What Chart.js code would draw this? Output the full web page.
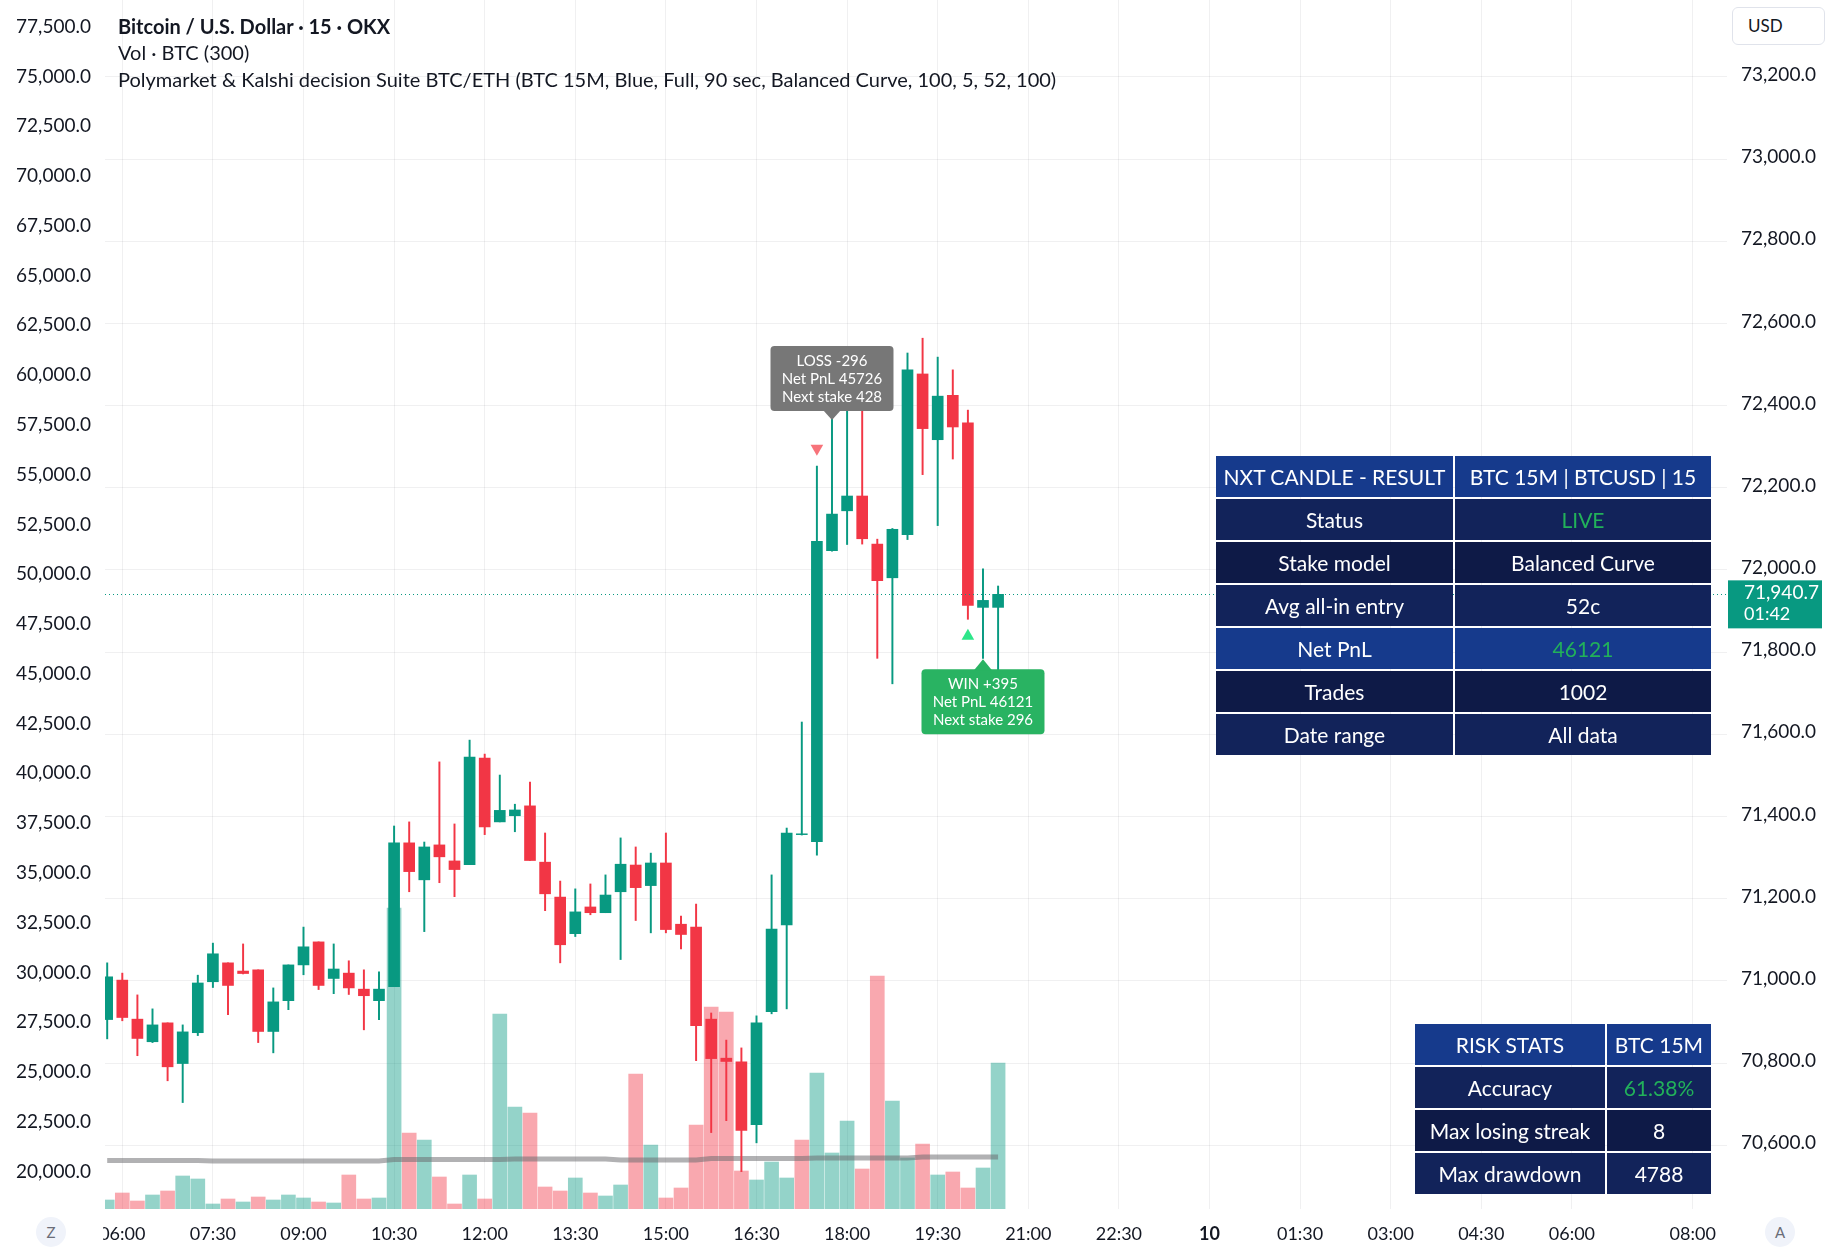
<!DOCTYPE html>
<html>
<head>
<meta charset="utf-8">
<title>Bitcoin / U.S. Dollar · 15 · OKX</title>
<script src="https://cdn.jsdelivr.net/npm/chart.js@4.4.1/dist/chart.umd.min.js"></script>
<style>
  html, body { margin: 0; padding: 0; background: #ffffff; }
  #wrap {
    position: relative;
    width: 1832px;
    height: 1255px;
    overflow: hidden;
    font-family: Lato, "Noto Sans", sans-serif;
    color: #131722;
  }
  #chart { position: absolute; left: 0; top: 0; }
  .legend { position: absolute; left: 118px; font-size: 20px; line-height: 26px; white-space: nowrap; }
  .legend.title { font-weight: bold; }
  .usd {
    position: absolute; left: 1732px; top: 7px; width: 93px; height: 38px;
    box-sizing: border-box; border: 1px solid #e0e3eb; border-radius: 6px;
    font-size: 17px; line-height: 36px; padding-left: 15px; background: #fff;
  }
  .round-btn {
    position: absolute; width: 30px; height: 30px; border-radius: 15px;
    background: #f0f3fa; color: #6a6d78; font-size: 15px; line-height: 30px; text-align: center;
  }
  table.panel {
    position: absolute;
    border-collapse: separate;
    border-spacing: 2px;
    font-size: 21px;
    color: #ffffff;
  }
  table.panel td { height: 41px; padding: 0; text-align: center; white-space: nowrap; }
  .hdr { background: #163a8c; }
  .rowA { background: #12235a; }
  .rowB { background: #0e1a47; }
  .good { color: #22b15a; }
</style>
</head>
<body>
<div id="wrap">
  <canvas id="chart" width="1832" height="1255"></canvas>

  <div class="legend title" style="top:13px">Bitcoin / U.S. Dollar · 15 · OKX</div>
  <div class="legend" style="top:39px">Vol · BTC (300)</div>
  <div class="legend" style="top:66px">Polymarket &amp; Kalshi decision Suite BTC/ETH (BTC 15M, Blue, Full, 90 sec, Balanced Curve, 100, 5, 52, 100)</div>

  <div class="usd">USD</div>
  <div class="round-btn" style="left:36px; top:1217px">Z</div>
  <div class="round-btn" style="left:1765px; top:1217px">A</div>

  <table class="panel" style="left:1214px; top:454px">
    <tr><td class="hdr" style="width:237px">NXT CANDLE - RESULT</td><td class="hdr" style="width:256px">BTC 15M | BTCUSD | 15</td></tr>
    <tr><td class="rowA">Status</td><td class="rowA good">LIVE</td></tr>
    <tr><td class="rowB">Stake model</td><td class="rowB">Balanced Curve</td></tr>
    <tr><td class="rowA">Avg all-in entry</td><td class="rowA">52c</td></tr>
    <tr><td class="hdr">Net PnL</td><td class="hdr good">46121</td></tr>
    <tr><td class="rowB">Trades</td><td class="rowB">1002</td></tr>
    <tr><td class="rowA">Date range</td><td class="rowA">All data</td></tr>
  </table>

  <table class="panel" style="left:1413px; top:1022px">
    <tr><td class="hdr" style="width:190px">RISK STATS</td><td class="hdr" style="width:104px">BTC 15M</td></tr>
    <tr><td class="rowA">Accuracy</td><td class="rowA good">61.38%</td></tr>
    <tr><td class="rowB">Max losing streak</td><td class="rowB">8</td></tr>
    <tr><td class="rowA">Max drawdown</td><td class="rowA">4788</td></tr>
  </table>
</div>

<script>
// 15 minute candles, 05:45 -> 20:30
const candleTimes = [
  "05:45", "06:00", "06:15", "06:30", "06:45", "07:00", "07:15", "07:30", "07:45", "08:00",
  "08:15", "08:30", "08:45", "09:00", "09:15", "09:30", "09:45", "10:00", "10:15", "10:30",
  "10:45", "11:00", "11:15", "11:30", "11:45", "12:00", "12:15", "12:30", "12:45", "13:00",
  "13:15", "13:30", "13:45", "14:00", "14:15", "14:30", "14:45", "15:00", "15:15", "15:30",
  "15:45", "16:00", "16:15", "16:30", "16:45", "17:00", "17:15", "17:30", "17:45", "18:00",
  "18:15", "18:30", "18:45", "19:00", "19:15", "19:30", "19:45", "20:00", "20:15", "20:30"
];

const opens = [
  70906, 71002, 70907, 70852, 70898, 70799, 70874, 70998, 71044, 71024,
  71027, 70877, 70952, 71039, 71095, 71006, 71019, 70980, 70952, 70986,
  71336, 71246, 71331, 71292, 71283, 71542, 71387, 71402, 71426, 71289,
  71204, 71115, 71180, 71166, 71217, 71282, 71232, 71287, 71138, 71131,
  70907, 70812, 70803, 70650, 70925, 71136, 71356, 71339, 72047, 72144,
  72180, 72063, 71981, 72086, 72477, 72317, 72425, 72358, 71909, 71909
];
const highs = [
  71044, 71019, 70966, 70932, 70898, 70893, 71014, 71092, 71044, 71090,
  71027, 70983, 71039, 71131, 71095, 71090, 71049, 71027, 71022, 71377,
  71387, 71338, 71533, 71382, 71586, 71552, 71501, 71430, 71484, 71360,
  71243, 71224, 71236, 71258, 71348, 71326, 71311, 71360, 71158, 71187,
  70922, 70856, 70837, 70915, 71258, 71372, 71630, 72253, 72370, 72420,
  72410, 72075, 72101, 72528, 72564, 72518, 72487, 72389, 72003, 71961
];
const lows = [
  70859, 70903, 70818, 70850, 70757, 70704, 70867, 70984, 70918, 71017,
  70850, 70825, 70930, 71015, 70979, 70969, 70967, 70881, 70906, 70986,
  71217, 71120, 71239, 71205, 71283, 71356, 71387, 71363, 71293, 71171,
  71044, 71108, 71161, 71166, 71052, 71147, 71117, 71117, 71078, 70806,
  70631, 70660, 70536, 70606, 70920, 70932, 71355, 71306, 72046, 72062,
  72063, 71785, 71723, 72074, 72232, 72108, 72270, 71880, 71785, 71754
];
const closes = [
  71010, 70911, 70860, 70893, 70791, 70876, 70995, 71066, 70989, 71018,
  70877, 70949, 71039, 71083, 70989, 71029, 70983, 70964, 70980, 71336,
  71266, 71326, 71302, 71271, 71545, 71375, 71415, 71416, 71293, 71212,
  71088, 71168, 71166, 71209, 71284, 71227, 71287, 71125, 71113, 70891,
  70811, 70804, 70636, 70898, 71126, 71360, 71358, 72070, 72136, 72180,
  72076, 71974, 72099, 72487, 72344, 72423, 72348, 71914, 71926, 71940.7
];

// volume (BTC) and its 300 period average
const volumes = [
  9, 16, 8, 14, 18, 33, 30, 5, 10, 7,
  12, 9, 14, 11, 7, 6, 34, 10, 11, 301,
  76, 69, 32, 5, 34, 10, 195, 102, 96, 22,
  18, 31, 16, 13, 24, 135, 64, 11, 21, 84,
  202, 197, 38, 29, 47, 31, 69, 136, 56, 88,
  40, 233, 108, 51, 65, 34, 37, 21, 41, 146
];
const volumeMA = [
  48.5, 48.5, 48.5, 48.5, 48.5, 48.5, 48.5, 48, 48, 48,
  48, 48, 48, 48, 48, 48, 48, 48, 48, 49.5,
  49.5, 49.5, 49.5, 49.5, 49.5, 49.5, 49.5, 50, 50, 50,
  50, 50, 50, 50, 49, 49, 49, 49, 49, 49,
  50.5, 50.5, 50.5, 50.5, 50.5, 50.5, 50.5, 51, 51, 51,
  51, 51, 51, 51, 52, 52, 52, 52, 52, 52
];

// axis ticks
const xTickHours = [6, 7.5, 9, 10.5, 12, 13.5, 15, 16.5, 18, 19.5, 21, 22.5, 24, 25.5, 27, 28.5, 30, 32];
const xTickLabels = ["06:00", "07:30", "09:00", "10:30", "12:00", "13:30", "15:00", "16:30", "18:00", "19:30",
  "21:00", "22:30", "10", "01:30", "03:00", "04:30", "06:00", "08:00"];
const priceTicks = [70600, 70800, 71000, 71200, 71400, 71600, 71800, 72000, 72200, 72400, 72600, 72800, 73000, 73200];
const leftTicks = [20000, 22500, 25000, 27500, 30000, 32500, 35000, 37500, 40000, 42500, 45000, 47500,
  50000, 52500, 55000, 57500, 60000, 62500, 65000, 67500, 70000, 72500, 75000, 77500];

// strategy signals and trade results
const signalTimes = ["17:30", "20:00"];
const signalPrices = [72296, 71839];
const signalSides = ["sell", "buy"];
const tradeTimes = ["17:45", "20:15"];
const tradeResults = ["LOSS -296", "WIN +395"];
const tradeNetPnL = [45726, 46121];
const tradeNextStake = [428, 296];
const barCountdown = "01:42";

const UP = "#089981";
const DOWN = "#f23645";
const GRID = "rgba(42, 46, 57, 0.07)";
const TEXT = "#131722";
const FONT = 'Lato, "Noto Sans", sans-serif';

function toHours(t) {
  const [h, m] = t.split(":").map(Number);
  return h + m / 60;
}

function formatPrice(v) {
  return v.toLocaleString("en-US", { minimumFractionDigits: 1, maximumFractionDigits: 1 });
}

const xs = candleTimes.map(toHours);
const candleColors = closes.map((c, i) => (c >= opens[i] ? UP : DOWN));
const volumeColors = closes.map((c, i) => {
  const prev = i === 0 ? opens[0] : closes[i - 1];
  return c >= prev ? "rgba(8, 153, 129, 0.43)" : "rgba(242, 54, 69, 0.43)";
});

const tradeLabelsPlugin = {
  id: "tradeLabels",
  afterDatasetsDraw(chart) {
    const { ctx, chartArea } = chart;
    const xScale = chart.scales.x;
    const yScale = chart.scales.yPrice;
    ctx.save();

    // last price dotted line
    const lastY = yScale.getPixelForValue(closes[closes.length - 1]);
    ctx.strokeStyle = UP;
    ctx.lineWidth = 1;
    ctx.setLineDash([1, 3]);
    ctx.beginPath();
    ctx.moveTo(chartArea.left, Math.round(lastY) + 0.5);
    ctx.lineTo(chartArea.right, Math.round(lastY) + 0.5);
    ctx.stroke();
    ctx.setLineDash([]);

    // trade result bubbles
    ctx.font = "15px " + FONT;
    ctx.textAlign = "center";
    ctx.textBaseline = "middle";
    tradeTimes.forEach((t, k) => {
      const i = candleTimes.indexOf(t);
      const x = xScale.getPixelForValue(xs[i]);
      const isWin = tradeResults[k].startsWith("WIN");
      const lines = [tradeResults[k], "Net PnL " + tradeNetPnL[k], "Next stake " + tradeNextStake[k]];
      const w = 123;
      const h = 65;
      let tipY, boxTop;
      if (isWin) {
        tipY = yScale.getPixelForValue(lows[i]) + 1;
        boxTop = tipY + 10;
      } else {
        tipY = yScale.getPixelForValue(highs[i]) + 2;
        boxTop = tipY - 9 - h;
      }
      ctx.fillStyle = isWin ? "#29b362" : "#777777";
      ctx.beginPath();
      ctx.roundRect(x - w / 2, boxTop, w, h, 4);
      ctx.fill();
      ctx.beginPath();
      if (isWin) {
        ctx.moveTo(x - 9, boxTop + 1);
        ctx.lineTo(x, tipY);
        ctx.lineTo(x + 9, boxTop + 1);
      } else {
        ctx.moveTo(x - 9, boxTop + h - 1);
        ctx.lineTo(x, tipY);
        ctx.lineTo(x + 9, boxTop + h - 1);
      }
      ctx.fill();
      ctx.fillStyle = "#ffffff";
      lines.forEach((line, j) => {
        ctx.fillText(line, x, boxTop + 15 + j * 18);
      });
    });
    ctx.restore();
  },
  afterDraw(chart) {
    const { ctx, chartArea } = chart;
    const yScale = chart.scales.yPrice;
    const last = closes[closes.length - 1];
    const y = yScale.getPixelForValue(last);
    ctx.save();
    // time labels are cut at the left edge of the pane
    ctx.fillStyle = "#ffffff";
    ctx.fillRect(0, chartArea.bottom + 1, chartArea.left - 2, chart.height - chartArea.bottom);
    ctx.fillStyle = UP;
    ctx.fillRect(chartArea.right + 1, y - 14, 94, 48);
    ctx.fillStyle = "#ffffff";
    ctx.textAlign = "left";
    ctx.textBaseline = "middle";
    ctx.font = "19px " + FONT;
    ctx.fillText(formatPrice(last), chartArea.right + 17, y - 1);
    ctx.font = "18px " + FONT;
    ctx.fillText(barCountdown, chartArea.right + 17, y + 20);
    ctx.restore();
  }
};

new Chart(document.getElementById("chart"), {
  type: "bar",
  data: {
    datasets: [
      {
        type: "scatter",
        label: "Signals",
        data: signalTimes.map((t, k) => ({ x: toHours(t), y: signalPrices[k] })),
        yAxisID: "yPrice",
        pointStyle: "triangle",
        pointRadius: 7.3,
        pointRotation: signalSides.map((s) => (s === "sell" ? 180 : 0)),
        pointBackgroundColor: signalSides.map((s) => (s === "sell" ? "#f7737a" : "#2ee68a")),
        pointBorderWidth: 0,
        order: 1,
      },
      {
        label: "Body",
        data: xs.map((x, i) => ({ x: x, y: [opens[i], closes[i]] })),
        yAxisID: "yPrice",
        backgroundColor: candleColors,
        barThickness: 11,
        grouped: false,
        order: 2,
      },
      {
        label: "Wick",
        data: xs.map((x, i) => ({ x: x, y: [lows[i], highs[i]] })),
        yAxisID: "yPrice",
        backgroundColor: candleColors,
        barThickness: 1.3,
        grouped: false,
        order: 3,
      },
      {
        type: "line",
        label: "Volume MA",
        data: xs.map((x, i) => ({ x: x, y: volumeMA[i] })),
        yAxisID: "yVol",
        borderColor: "rgba(105, 105, 110, 0.52)",
        borderWidth: 5,
        pointRadius: 0,
        tension: 0,
        order: 4,
      },
      {
        label: "Volume",
        data: xs.map((x, i) => ({ x: x, y: volumes[i] })),
        yAxisID: "yVol",
        backgroundColor: volumeColors,
        barThickness: 14,
        grouped: false,
        order: 5,
      },
    ],
  },
  options: {
    responsive: false,
    animation: false,
    devicePixelRatio: 1,
    layout: { padding: 0, autoPadding: false },
    plugins: {
      legend: { display: false },
      tooltip: { enabled: false },
    },
    scales: {
      x: {
        type: "linear",
        min: 5.7136,
        max: 32.568,
        offset: false,
        grid: { color: GRID, drawTicks: false, offset: false },
        border: { display: false },
        ticks: {
          padding: 14,
          color: TEXT,
          maxRotation: 0,
          autoSkip: false,
          font: (c) => ({ family: FONT, size: 18, weight: c.tick && c.tick.value === 24 ? "bold" : "normal" }),
          callback: (v) => xTickLabels[xTickHours.indexOf(v)],
        },
        afterBuildTicks: (s) => {
          s.ticks = xTickHours.map((v) => ({ value: v }));
        },
        afterFit: (s) => {
          s.height = 46;
          s.paddingLeft = 0;
          s.paddingRight = 0;
        },
      },
      yLeft: {
        type: "linear",
        position: "left",
        min: 18066,
        max: 78791,
        beginAtZero: false,
        grid: { display: false },
        border: { display: false },
        ticks: {
          padding: 6,
          labelOffset: 1,
          color: TEXT,
          font: { family: FONT, size: 19 },
          callback: formatPrice,
        },
        afterBuildTicks: (s) => {
          s.ticks = leftTicks.map((v) => ({ value: v }));
        },
        afterFit: (s) => {
          s.width = 105;
          s.paddingTop = 0;
          s.paddingBottom = 0;
        },
      },
      yPrice: {
        type: "linear",
        position: "right",
        min: 70445,
        max: 73387,
        beginAtZero: false,
        grid: { color: GRID, drawTicks: false },
        border: { display: false },
        ticks: {
          padding: 14,
          labelOffset: -2,
          color: TEXT,
          font: { family: FONT, size: 19 },
          callback: formatPrice,
        },
        afterBuildTicks: (s) => {
          s.ticks = priceTicks.map((v) => ({ value: v }));
        },
        afterFit: (s) => {
          s.width = 105;
          s.paddingTop = 0;
          s.paddingBottom = 0;
        },
      },
      yVol: {
        type: "linear",
        display: false,
        min: 0,
        max: 1209,
      },
    },
  },
  plugins: [tradeLabelsPlugin],
});
</script>
</body>
</html>
